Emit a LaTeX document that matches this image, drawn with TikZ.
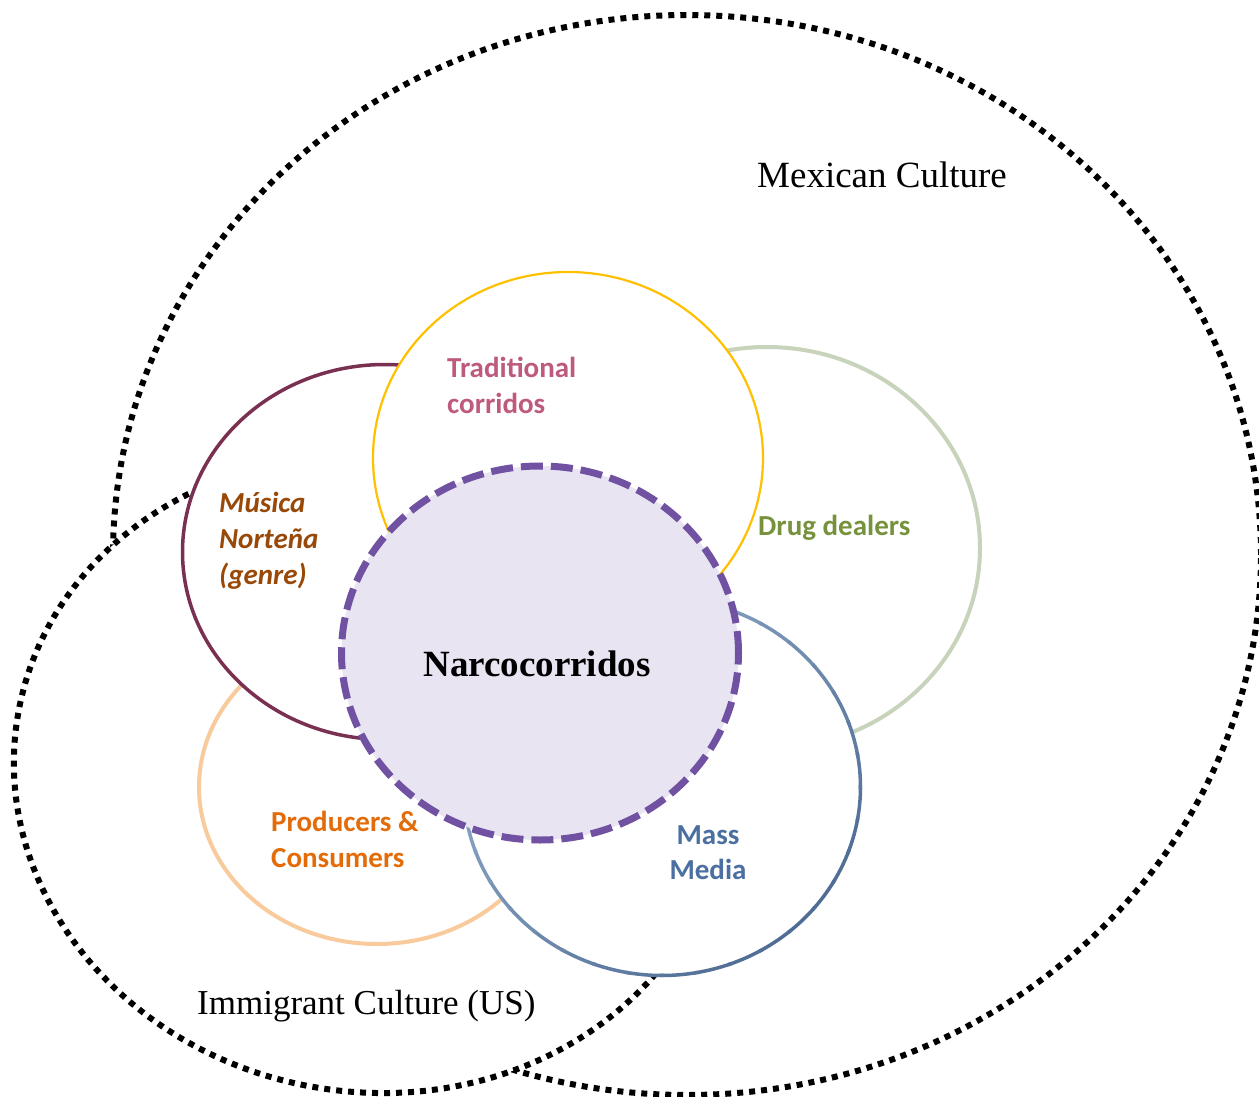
\documentclass[tikz,border=0pt]{standalone}
\usepackage{fontspec}
\setmainfont{Liberation Serif}
\newfontfamily\calib{Carlito}
\usetikzlibrary{shapes.geometric}
\definecolor{tradc}{HTML}{FFC000}
\definecolor{drugc}{HTML}{C8D3BB}
\definecolor{musc}{HTML}{7A3050}
\definecolor{prodc}{HTML}{F9CB9C}
\definecolor{mmlight}{HTML}{93ADCB}
\definecolor{mmdark}{HTML}{4F6C94}
\definecolor{narcfill}{HTML}{E8E4F1}
\definecolor{narcline}{HTML}{7152A2}
\definecolor{tradtxt}{HTML}{BF5A7F}
\definecolor{mustxt}{HTML}{984807}
\definecolor{drugtxt}{HTML}{76923C}
\definecolor{prodtxt}{HTML}{E36C09}
\definecolor{mmtxt}{HTML}{4A6FA0}
\tikzset{
  dotline/.style={line width=6pt, dash pattern=on 6pt off 6pt},
  setcircle/.style={ellipse, inner sep=0pt, outer sep=0pt, fill=white},
  lbl/.style={font=\calib\bfseries\fontsize{29}{35}\selectfont, inner sep=0pt},
  lbli/.style={font=\calib\bfseries\itshape\fontsize{29}{35}\selectfont, inner sep=0pt},
}
\begin{document}
\begin{tikzpicture}[x=1pt,y=-1pt]
\useasboundingbox (0,0) rectangle (1259,1097);
\clip (0,0) rectangle (1259,1097);
% Mexican culture
\coordinate (mex) at (687,555);
\draw[dotline] (mex) ellipse [x radius=574pt, y radius=540pt];
% Immigrant culture
\coordinate (imm) at (370,774);
\filldraw[dotline, fill=white, rotate around={-9:(imm)}] (imm) ellipse [x radius=357pt, y radius=318pt];
% circles
\node[setcircle, draw=prodc, line width=4pt, minimum width=356pt, minimum height=314pt] (prod) at (377,787) {};
\node[setcircle, draw=drugc, line width=4pt, minimum width=426pt, minimum height=402pt] (drug) at (767,548) {};
\node[setcircle, draw=musc, line width=3.5pt, minimum width=405pt, minimum height=375pt] (mus) at (385,552) {};
\node[setcircle, draw=tradc, line width=2.2pt, minimum width=390pt, minimum height=372pt] (trad) at (568,458) {};
\node[setcircle, minimum width=397pt, minimum height=377pt] (mass) at (662,787) {};
\foreach \a in {0,10,...,350}{
  \pgfmathtruncatemacro\mix{50*(1+(cos(\a+5)+sin(\a+5))/sqrt(2))}
  \draw[line width=3.5pt, mmdark!\mix!mmlight] plot[domain=\a-0.6:\a+10.6, samples=8, variable=\t] ({662+198.5*cos(\t)},{787+188.5*sin(\t)});
}
\node[ellipse, inner sep=0pt, fill=narcfill, draw=narcline, line width=7pt, dash pattern=on 22pt off 8pt, minimum width=397pt, minimum height=374pt] (narc) at (540,653) {};
% labels
\node[lbl, text=tradtxt, anchor=base west] (t1) at (447,377) {Traditional};
\node[lbl, text=tradtxt, anchor=base west] (t2) at (447,413) {corridos};
\node[lbli, text=mustxt, anchor=base west] (m1) at (219,512) {Música};
\node[lbli, text=mustxt, anchor=base west] (m2) at (219,548) {Norteña};
\node[lbli, text=mustxt, anchor=base west] (m3) at (219,584) {(genre)};
\node[lbl, text=drugtxt, anchor=base west] (d1) at (758,535) {Drug dealers};
\node[lbl, text=prodtxt, anchor=base west] (p1) at (271,831) {Producers \&};
\node[lbl, text=prodtxt, anchor=base west] (p2) at (271,867) {Consumers};
\node[lbl, text=mmtxt, anchor=base] (mm1) at (708,844) {Mass};
\node[lbl, text=mmtxt, anchor=base] (mm2) at (708,879) {Media};
\node[font=\bfseries\fontsize{37}{44}\selectfont, inner sep=0pt, anchor=base] (nt) at (537,676) {Narcocorridos};
\node[font=\fontsize{37}{44}\selectfont, inner sep=0pt, anchor=base west] (mext) at (757,187) {Mexican Culture};
\node[font=\fontsize{35}{42}\selectfont, inner sep=0pt, anchor=base west] (immt) at (197,1014) {Immigrant Culture (US)};
\end{tikzpicture}
\end{document}
